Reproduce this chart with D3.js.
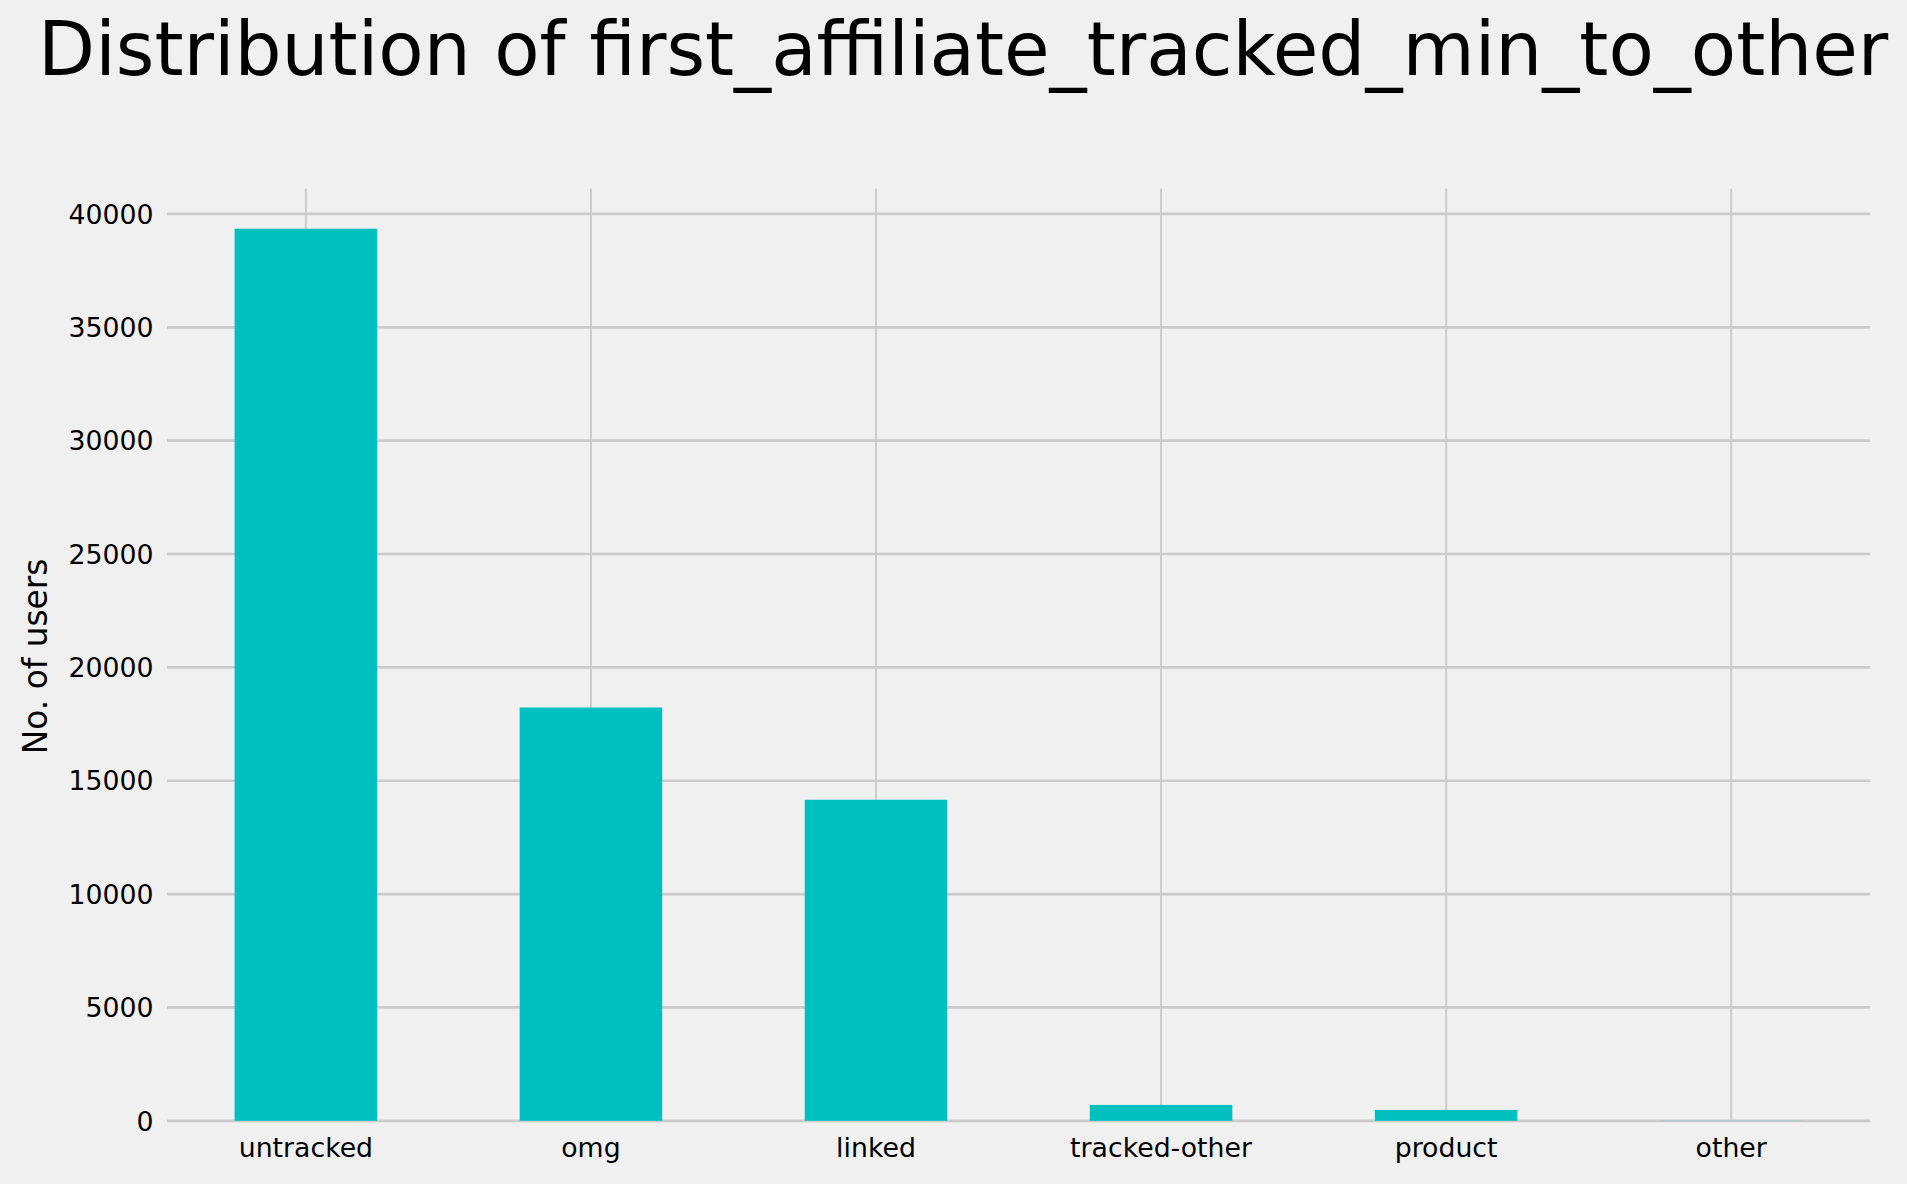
<!DOCTYPE html>
<html><head><meta charset="utf-8">
<script src="https://cdn.jsdelivr.net/npm/d3@7"></script>
<style>body{margin:0;background:#f0f0f0;overflow:hidden}</style>
</head><body><div id="chart"></div>
<script>
var categories = ["untracked", "omg", "linked", "tracked-other", "product", "other"];
var users = [39350, 18230, 14160, 700, 480, 5];
var yTicks = [0, 5000, 10000, 15000, 20000, 25000, 30000, 35000, 40000];

var svg = d3.select("#chart").append("svg")
    .attr("width", 1907).attr("height", 1184)
    .attr("viewBox", "0 0 1568 974")
    .style("font-family", "DejaVu Sans");

svg.append("rect").attr("width", 1568).attr("height", 974).attr("fill", "#f0f0f0");

var x = d3.scaleBand().domain(categories).range([134, 1541]).paddingInner(0.5).paddingOuter(0.25);
var y = d3.scaleLinear().domain([0, 40000]).range([922, 176]);

// grid
svg.selectAll(".vg").data(categories).enter().append("line")
    .attr("x1", d => x(d) + x.bandwidth() / 2).attr("x2", d => x(d) + x.bandwidth() / 2)
    .attr("y1", 155).attr("y2", 922)
    .attr("stroke", "#cbcbcb").attr("stroke-width", 1.6);
svg.selectAll(".hg").data(yTicks).enter().append("line")
    .attr("x1", 137).attr("x2", 1538)
    .attr("y1", d => y(d)).attr("y2", d => y(d))
    .attr("stroke", "#cbcbcb").attr("stroke-width", 2.2);

// bars
svg.selectAll(".bar").data(users).enter().append("rect")
    .attr("x", (d, i) => x(categories[i]))
    .attr("width", x.bandwidth())
    .attr("y", d => y(d))
    .attr("height", d => y(0) - y(d))
    .attr("fill", "#00bfbf");

// tick labels
svg.selectAll(".yl").data(yTicks).enter().append("text")
    .attr("x", 126).attr("y", d => y(d) + 8)
    .attr("text-anchor", "end").attr("font-size", 22).text(d => d);
svg.selectAll(".xl").data(categories).enter().append("text")
    .attr("x", d => x(d) + x.bandwidth() / 2).attr("y", 952)
    .attr("text-anchor", "middle").attr("font-size", 22).text(d => d);

svg.append("text").attr("transform", "translate(38,540) rotate(-90)")
    .attr("text-anchor", "middle").attr("font-size", 27).text("No. of users");

svg.append("text").attr("x", 792).attr("y", 62)
    .attr("text-anchor", "middle").attr("font-size", 61)
    .text("Distribution of first_affiliate_tracked_min_to_other");
</script></body></html>
